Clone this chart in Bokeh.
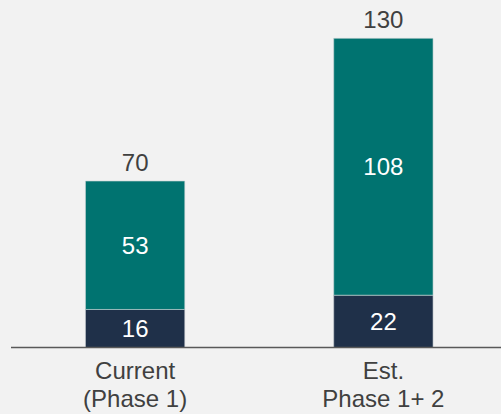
from bokeh.plotting import figure
from bokeh.models import Range1d, ColumnDataSource
from bokeh.core.properties import value
from bokeh.embed import file_html
from bokeh.resources import INLINE

# ---- data ----
categories_line1 = ["Current", "Est."]
categories_line2 = ["(Phase 1)", "Phase 1+ 2"]
phase_base = [16, 22]        # dark navy segment
phase_add = [53, 108]        # teal segment (label)
totals = [70, 130]

# ---- styling ----
BG = "#f2f2f2"
NAVY = "#1f3049"
TEAL = "#007370"
TXT = "#404040"
FONT = value("Liberation Sans")

W, H = 501, 414
n = len(totals)
xs = [i + 0.5 for i in range(n)]

src = ColumnDataSource(dict(
    x=xs,
    base=phase_base,
    add=phase_add,
    total=totals,
    base_mid=[b / 2 for b in phase_base],
    add_mid=[(b + t) / 2 for b, t in zip(phase_base, totals)],
    base_lbl=[str(v) for v in phase_base],
    add_lbl=[str(v) for v in phase_add],
    total_lbl=[str(v) for v in totals],
    l1=categories_line1,
    l2=categories_line2,
    zero=[0] * n,
))

p = figure(width=W, height=H, output_backend="svg", toolbar_location=None,
           x_range=Range1d(-0.0423, 1.9758), y_range=Range1d(-28.17, 145.92),
           min_border=0, background_fill_color=BG, border_fill_color=BG,
           outline_line_color=None)
p.axis.visible = False
p.grid.visible = False

bw = 0.40
p.vbar(x="x", width=bw, bottom=0, top="base", source=src, fill_color=NAVY,
       line_color="#c8ccd2", line_width=0.6)
p.vbar(x="x", width=bw, bottom="base", top="total", source=src, fill_color=TEAL,
       line_color="#c8d4d4", line_width=0.6)

# baseline axis line
p.segment(x0=0, x1=n, y0=0, y1=0, line_color="#595959", line_width=1.5)

common = dict(text_font=FONT, text_font_size="24px", text_align="center",
              text_baseline="middle")
p.text(x="x", y="base_mid", text="base_lbl", source=src, text_color="white",
       y_offset=0, **common)
p.text(x="x", y="add_mid", text="add_lbl", source=src, text_color="white",
       y_offset=0, **common)
p.text(x="x", y="total", text="total_lbl", source=src, text_color=TXT,
       y_offset=-19, **common)
p.text(x="x", y="zero", text="l1", source=src, text_color=TXT,
       y_offset=23, **common)
p.text(x="x", y="zero", text="l2", source=src, text_color=TXT,
       y_offset=51, **common)

html = file_html(p, INLINE)
html = html.replace("</head>", "<style>html,body{background:#f2f2f2;}</style></head>", 1)
open("out.html", "w").write(html)
